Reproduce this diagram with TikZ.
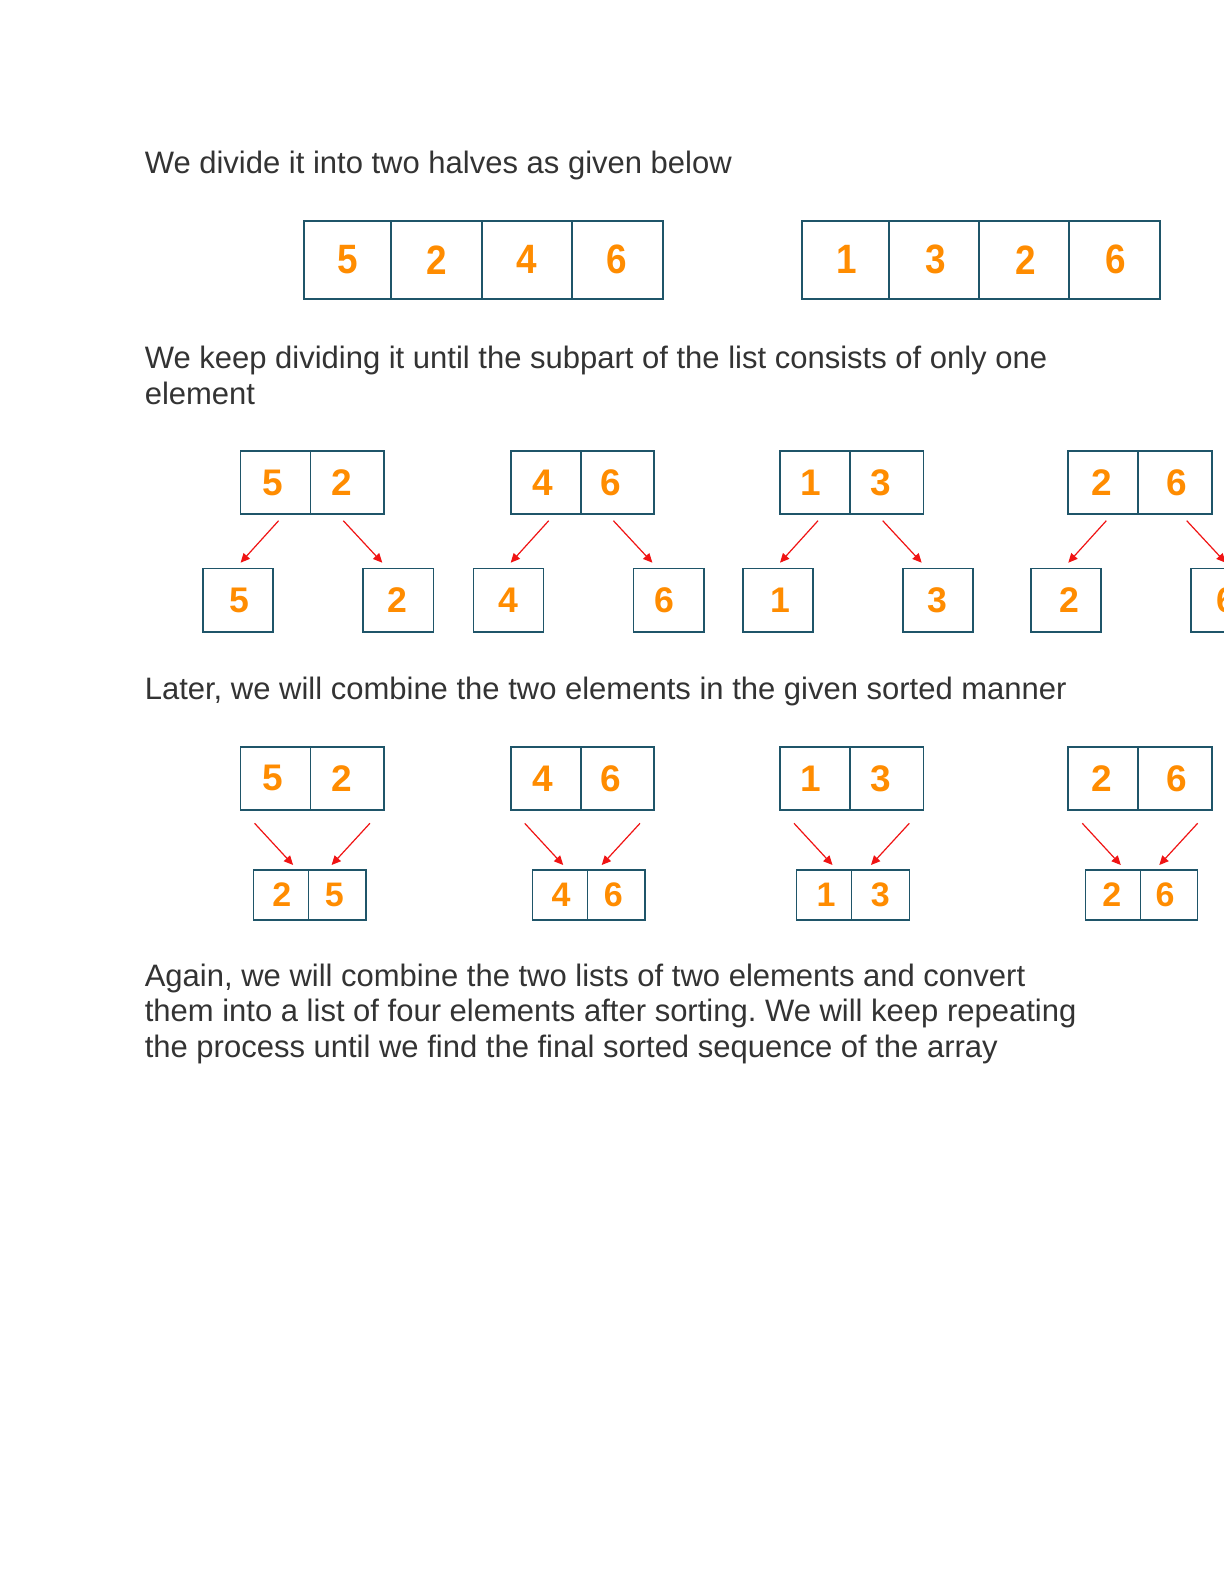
\documentclass[tikz,border=0pt]{standalone}
\usepackage{fontspec}
\setmainfont{Liberation Sans}
\newfontfamily\narrowsans[FakeStretch=0.9]{Liberation Sans}
\usetikzlibrary{arrows.meta,calc}
\definecolor{txtc}{HTML}{333333}
\definecolor{boxc}{HTML}{1F5569}
\definecolor{numc}{HTML}{FF8C00}
\definecolor{arrc}{HTML}{F01414}
\tikzset{
  para/.style={anchor=base west, inner sep=0pt, text=txtc, font=\fontsize{15.5}{18}\selectfont},
  cell/.style={draw=boxc, line width=0.85pt, inner sep=0pt, outer sep=0pt, text=numc,
    font=\fontsize{18.5}{20}\selectfont\bfseries},
  bigcell/.style={cell, line width=1pt, font=\narrowsans\fontsize{20.5}{22}\selectfont\bfseries},
  onecell/.style={cell, font=\fontsize{17.8}{20}\selectfont\bfseries},
  smallcell/.style={cell, line width=0.7pt, font=\fontsize{17}{20}\selectfont\bfseries},
  arrowst/.style={draw=arrc, line width=0.6pt, -{Triangle[length=4.6pt,width=4.2pt]}},
}
% optional style, name, x1, y1, x2, y2, text ; \mysh = horizontal text shift (px)
\newcommand\mkcell[7][]{%
  \pgfmathsetmacro\mycw{((#5)-(#3))*0.5}%
  \pgfmathsetmacro\mych{((#6)-(#4))*0.5}%
  \node[cell,#1,minimum width=\mycw pt,minimum height=\mych pt] (#2) at ({((#3)+(#5))/2},{((#4)+(#6))/2}) {#7};}
\newcommand\sh[2]{\hspace*{#1pt}#2}
\begin{document}
\frenchspacing
\begin{tikzpicture}[x=0.5pt,y=-0.5pt]
\fill[white] (0,0) rectangle (1224,1584);
\useasboundingbox (0,0) rectangle (1224,1584);

% texts
\node[para] (t1) at (144.4,173.5) {We divide it into two halves as given below};
\node[para] (t2a) at (144.4,368.5) {We keep dividing it until the subpart of the list consists of only one};
\node[para] (t2b) at (144.4,404) {element};
\node[para] (t3) at (144.4,699) {Later, we will combine the two elements in the given sorted manner};
\node[para] (t4a) at (144.4,986) {Again, we will combine the two lists of two elements and convert};
\node[para] (t4b) at (144.4,1021.5) {them into a list of four elements after sorting. We will keep repeating};
\node[para] (t4c) at (144.4,1057) {the process until we find the final sorted sequence of the array};

% row 1
\mkcell[bigcell]{r1a}{304}{221}{391}{298.5}{5}
\mkcell[bigcell]{r1b}{391}{221}{481.7}{298.5}{2}
\mkcell[bigcell]{r1c}{481.7}{221}{571.8}{298.5}{4}
\mkcell[bigcell]{r1d}{571.8}{221}{662.5}{298.5}{6}
\mkcell[bigcell]{r1e}{801.8}{221}{888.8}{298.5}{\sh{1}{1}}
\mkcell[bigcell]{r1f}{888.8}{221}{978.7}{298.5}{\sh{2}{3}}
\mkcell[bigcell]{r1g}{978.7}{221}{1069.3}{298.5}{\sh{2}{2}}
\mkcell[bigcell]{r1h}{1069.3}{221}{1159.8}{298.5}{\sh{1}{6}}

% row 2: split into single elements
\foreach \g/\L/\p/\q/\s/\ha/\hb/\ba/\bb in {A/240.6/5/2/32.7/-3/-6/1/-1, B/510.7/4/6/32.7/-2.5/-6.5/0/-4, C/780/1/3/32.7/-4/-6/3/0, D/1068.3/2/6/48.4/-1.5/1.5/3/0}{
  \mkcell{\g-t1}{\L}{450.7}{\L+70}{514.3}{\sh{\ha}{\p}}
  \mkcell{\g-t2}{\L+70}{450.7}{\L+143.5}{514.3}{\sh{\hb}{\q}}
  \mkcell[onecell]{\g-b1}{\L-37.3}{568.5}{\L+32.7}{632.3}{\sh{\ba}{\p}}
  \mkcell[onecell]{\g-b2}{\L+122.7}{568.5}{\L+193}{632.3}{\sh{\bb}{\q}}
  \draw[arrowst] ($(\g-t1.south west)+(38,6.4)$) -- ($(\g-b1.north west)+(37.3,-5.8)$);
  \draw[arrowst] ($(\g-t2.south west)+(\s,6.4)$) -- ($(\g-b2.north west)+({\s-13.7},-5.8)$);
}

% row 3: combine in sorted order
\foreach \g/\L/\p/\q/\xa/\xm/\xb/\m/\n/\ha/\hb/\ma/\mb in {A/240.6/5/2/253.3/308.5/366/2/5/-3/-6/1/-3, B/510.7/4/6/532.5/587.7/645/4/6/-2.5/-6.5/1/-3, C/780/1/3/796.7/851.5/909.2/1/3/-4/-6/2/0, D/1068.3/2/6/1085.2/1140.5/1197.7/2/6/-1.5/1.5/-1/-4}{
  \mkcell{\g-u1}{\L}{746.7}{\L+70}{810}{\sh{\ha}{\p}}
  \mkcell{\g-u2}{\L+70}{746.7}{\L+143.5}{810}{\sh{\hb}{\q}}
  \mkcell[smallcell]{\g-m1}{\xa}{870}{\xm}{920}{\sh{\ma}{\m}}
  \mkcell[smallcell]{\g-m2}{\xm}{870}{\xb}{920}{\sh{\mb}{\n}}
  \draw[arrowst] ($(\g-u1.south west)+(14,13.3)$) -- ($(\g-m1.north west)+({\L+52.5-\xa},-5)$);
  \draw[arrowst] ($(\g-u2.south west)+(59.3,13.3)$) -- ($(\g-m1.north west)+({\L+91-\xa},-5)$);
}
\end{tikzpicture}
\end{document}
